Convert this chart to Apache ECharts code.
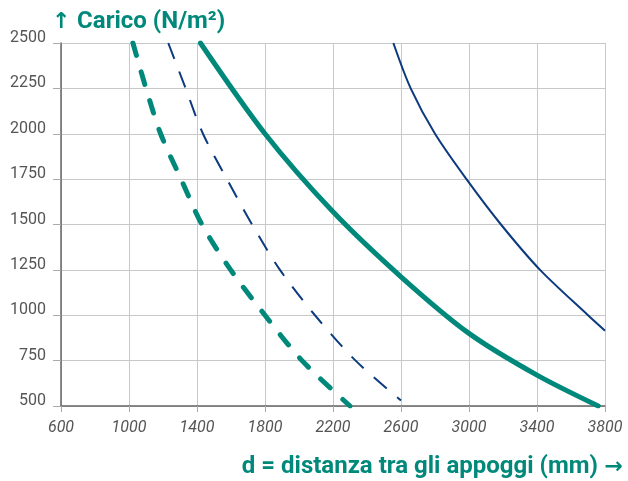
<!DOCTYPE html>
<html>
<head>
<meta charset="utf-8">
<script src="https://cdn.jsdelivr.net/npm/echarts@6/dist/echarts.min.js"></script>
<style>
html,body{margin:0;padding:0;background:#fff;}
#c{width:628px;height:481px;}
</style>
</head>
<body>
<div id="c"></div>
<script>
// Tick values
const xTicks = [600, 1000, 1400, 1800, 2200, 2600, 3000, 3400, 3800];
const yTicks = [500, 750, 1000, 1250, 1500, 1750, 2000, 2250, 2500];

// Thick teal dashed curve
const tealDashX = [1023, 1100, 1186, 1306, 1429, 1598, 1800, 2018, 2300];
const tealDashY = [2500, 2250, 2000, 1750, 1500, 1250, 1000, 750, 500];

// Thin navy dashed curve
const navyDashX = [1231, 1333, 1435, 1576, 1724, 1888, 2094, 2333, 2600];
const navyDashY = [2500, 2250, 2000, 1750, 1500, 1250, 1000, 750, 530];

// Thick teal solid curve
const tealSolidX = [1420, 1800, 2200, 2600, 3000, 3400, 3760];
const tealSolidY = [2500, 2000, 1570, 1212, 900, 670, 500];

// Thin navy solid curve
const navySolidX = [2555, 2657, 2800, 2985, 3188, 3418, 3700, 3800];
const navySolidY = [2500, 2250, 2000, 1750, 1500, 1250, 1000, 915];

const yArrow = '↑', yName = 'Carico (N/m²)';
const xName = 'd = distanza tra gli appoggi (mm)', xArrow = '→';

const TEAL = '#00897B';
const NAVY = '#0B3A7E';

function pairs(xs, ys){ return xs.map((x,i)=>[x, ys[i]]); }

const titleRich = {
  ar: { fontFamily: 'DejaVu Sans', fontWeight: 'bold', fontSize: 22, color: TEAL },
  t: { fontFamily: 'Roboto', fontWeight: 'bold', fontSize: 24, color: TEAL }
};

const chart = echarts.init(document.getElementById('c'), null, {renderer:'canvas'});
chart.setOption({
  animation: false,
  backgroundColor: '#fff',
  title: [
    { text: '{ar|' + yArrow + '} {t|' + yName + '}', left: 47, top: 5,
      textStyle: { rich: titleRich, fontSize: 24 } },
    { text: '{t|' + xName + '} {ar|' + xArrow + '}', right: 0, top: 450,
      textStyle: { rich: titleRich, fontSize: 24 } }
  ],
  grid: { left: 61, right: 23, top: 43, bottom: 75, containLabel: false },
  xAxis: {
    type: 'value', min: xTicks[0], max: xTicks[xTicks.length-1], interval: 400,
    axisLine: { show: true, lineStyle: { color: '#666', width: 1.5 } },
    axisTick: { show: true, length: 6, lineStyle: { color: '#aaa' } },
    splitLine: { show: true, lineStyle: { color: '#c8c8c8', width: 1 } },
    axisLabel: { color: '#555', fontFamily: 'Roboto', fontStyle: 'italic', fontSize: 16, margin: 14,
      formatter: v => String(v) }
  },
  yAxis: {
    type: 'value', min: yTicks[0], max: yTicks[yTicks.length-1], interval: 250,
    axisLine: { show: true, lineStyle: { color: '#666', width: 1.5 } },
    axisTick: { show: true, length: 8, lineStyle: { color: '#aaa' } },
    splitLine: { show: true, lineStyle: { color: '#c8c8c8', width: 1 } },
    axisLabel: { color: '#555', fontFamily: 'Roboto', fontSize: 16, margin: 15,
      verticalAlign: 'bottom', lineHeight: 10,
      formatter: v => String(v) }
  },
  series: [
    { type: 'line', data: pairs(tealDashX, tealDashY), smooth: 0.3, showSymbol: false,
      lineStyle: { color: TEAL, width: 5, type: [13, 17], cap: 'round' } },
    { type: 'line', data: pairs(navyDashX, navyDashY), smooth: 0.3, showSymbol: false,
      lineStyle: { color: NAVY, width: 2, type: [17, 13.5] } },
    { type: 'line', data: pairs(tealSolidX, tealSolidY), smooth: 0.3, showSymbol: false,
      lineStyle: { color: TEAL, width: 5, cap: 'round' } },
    { type: 'line', data: pairs(navySolidX, navySolidY), smooth: 0.3, showSymbol: false,
      lineStyle: { color: NAVY, width: 2 } }
  ]
});
</script>
</body>
</html>
